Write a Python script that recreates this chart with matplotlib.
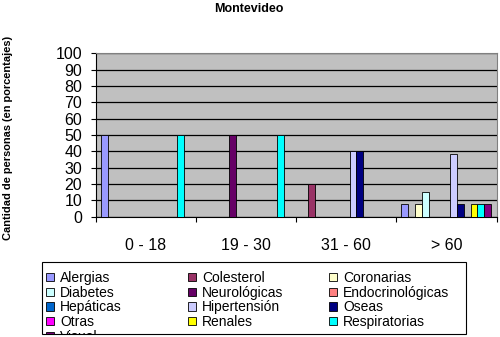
# Package Import
import numpy as np
import matplotlib
import matplotlib.pyplot as plt
from matplotlib.patches import Rectangle

# Settings
matplotlib.use('Agg')
plt.rcParams['font.family'] = ['Liberation Sans', 'DejaVu Sans']

# Data
grupos = ['0 - 18', '19 - 30', '31 - 60', '> 60']
enfermedades = ['Alergias', 'Colesterol', 'Coronarias', 'Diabetes', 'Neurológicas',
                'Endocrinológicas', 'Hepáticas', 'Hipertensión', 'Oseas', 'Otras',
                'Renales', 'Respiratorias', 'Visual']
alergias = [50, 0, 0, 7.7]
colesterol = [0, 0, 20, 0]
coronarias = [0, 0, 0, 7.7]
diabetes = [0, 0, 0, 15.4]
neurologicas = [0, 50, 0, 0]
endocrinologicas = [0, 0, 0, 0]
hepaticas = [0, 0, 0, 0]
hipertension = [0, 0, 40, 38.5]
oseas = [0, 0, 40, 7.7]
otras = [0, 0, 0, 0]
renales = [0, 0, 0, 7.7]
respiratorias = [50, 50, 0, 7.7]
visual = [0, 0, 0, 7.7]
valores = [alergias, colesterol, coronarias, diabetes, neurologicas, endocrinologicas,
           hepaticas, hipertension, oseas, otras, renales, respiratorias, visual]
colores = ['#9999FF', '#993366', '#FFFFCC', '#CCFFFF', '#660066', '#FF8080',
           '#0066CC', '#CCCCFF', '#000080', '#FF00FF', '#FFFF00', '#00FFFF', '#800080']

# Create the figure
fig = plt.figure(figsize=(5, 3.37), dpi=100)
ax = fig.add_axes([0.191, 0.357, 0.802, 0.485])
ax.set_facecolor('#C0C0C0')

# Bars (Excel style, gap width 150%)
n = len(enfermedades)
ancho = 1 / (n + 1.5)
x = np.arange(len(grupos))
handles = []
for j, (vals, col) in enumerate(zip(valores, colores)):
    pos = x - 0.5 + 0.75 * ancho + (j + 0.5) * ancho
    b = ax.bar(pos, vals, width=ancho, color=col, edgecolor='black',
               linewidth=0.6, zorder=3)
    handles.append(b)

# Axes
ax.set_xlim(-0.5, len(grupos) - 0.5)
ax.set_ylim(0, 100)
ax.set_yticks(np.arange(0, 101, 10))
ax.grid(axis='y', color='black', linewidth=0.9, zorder=1)
ax.tick_params(axis='y', labelsize=11.5, length=3.6, width=0.8, pad=6, direction='out')
ax.set_xticks(np.arange(len(grupos) + 1) - 0.5)
ax.set_xticklabels([])
ax.tick_params(axis='x', which='major', length=3.6, width=0.8, direction='out')
ax.set_xticks(x, minor=True)
ax.set_xticklabels(grupos, minor=True, fontsize=11.5)
ax.tick_params(axis='x', which='minor', length=0, pad=15)
for s in ['top', 'right']:
    ax.spines[s].set_color('#808080')
for s in ['left', 'bottom']:
    ax.spines[s].set_color('black')
    ax.spines[s].set_linewidth(0.8)

# MLS
fig.text(0.498, 1 - 9.5 / 337, 'Montevideo', ha='center', va='center',
         fontsize=9, fontweight='bold')
fig.text(8 / 500, 1 - 138 / 337, 'Cantidad de personas (en porcentajes)',
         rotation=90, ha='center', va='center', fontsize=7.9, fontweight='bold')

# Legend: three columns filled row-wise, box clipped at the bottom
fig.patches.append(Rectangle((42 / 500, 1 - 334 / 337), 424 / 500, 72 / 337,
                             transform=fig.transFigure, facecolor='white',
                             edgecolor='none', zorder=0.5))
col_x = [46, 188, 329]
for c in range(3):
    idx = list(range(c, n, 3))
    leg = fig.legend([handles[i] for i in idx], [enfermedades[i] for i in idx],
                     loc='upper left', bbox_to_anchor=(col_x[c] / 500, 1 - 271 / 337),
                     frameon=False, fontsize=10, ncol=1, borderpad=0, borderaxespad=0,
                     handlelength=0.55, handleheight=0.55, handletextpad=0.45,
                     labelspacing=0.05)
    leg.set_zorder(5)
fig.patches.append(Rectangle((0, 0), 1, 1 - 334 / 337, transform=fig.transFigure,
                             facecolor='white', edgecolor='none', zorder=20))
fig.patches.append(Rectangle((42 / 500, 1 - 334 / 337), 424 / 500, 72 / 337,
                             transform=fig.transFigure, facecolor='none',
                             edgecolor='black', linewidth=0.8, zorder=21))

# Saving the figure
fig.savefig('out.png', dpi=100)
plt.close()
